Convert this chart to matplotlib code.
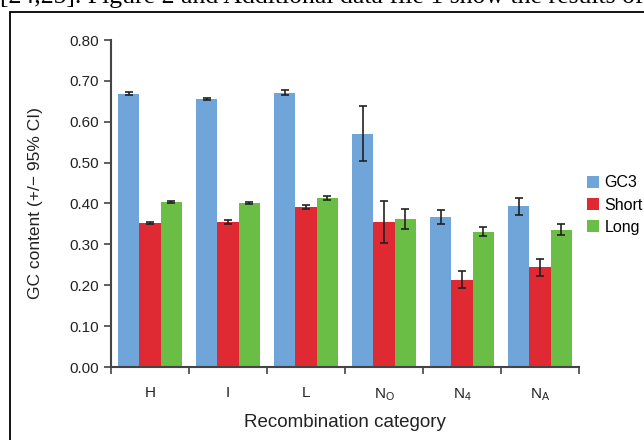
import numpy as np
import matplotlib
matplotlib.use('Agg')
import matplotlib.pyplot as plt
from matplotlib.patches import Rectangle

plt.rcParams['font.family'] = ['Liberation Sans', 'DejaVu Sans']
plt.rcParams['mathtext.fontset'] = 'custom'
plt.rcParams['mathtext.rm'] = 'Liberation Sans'

categories = ['H', 'I', 'L', r'N$_\mathrm{O}$', r'N$_\mathrm{4}$', r'N$_\mathrm{A}$']
series = ['GC3', 'Short', 'Long']
gc3 = [0.669, 0.655, 0.671, 0.571, 0.367, 0.393]
gc3_err = [0.003, 0.003, 0.006, 0.068, 0.016, 0.021]
short = [0.352, 0.355, 0.391, 0.355, 0.214, 0.244]
short_err = [0.003, 0.004, 0.005, 0.051, 0.020, 0.021]
long_ = [0.404, 0.401, 0.414, 0.362, 0.331, 0.336]
long_err = [0.002, 0.003, 0.005, 0.024, 0.011, 0.013]
colors = ['#6fa5d8', '#e02a33', '#6abd45']

fig = plt.figure(figsize=(6.44, 4.40), dpi=100)
ax = fig.add_axes([111/644, 1-367/440, 468/644, 327/440])

x = np.arange(len(categories))
w = 0.27
for i, (vals, errs) in enumerate([(gc3, gc3_err), (short, short_err), (long_, long_err)]):
    ax.bar(x + (i-1)*w, vals, w, color=colors[i], label=series[i],
           yerr=errs, error_kw=dict(ecolor='#222222', elinewidth=1.2, capsize=3, capthick=1.2))

ax.set_xlim(-0.5, len(categories)-0.5)
ax.set_ylim(0, 0.8)
ax.set_yticks(np.arange(0, 0.81, 0.1))
ax.set_yticklabels(['%.2f' % v for v in np.arange(0, 0.81, 0.1)], fontsize=11, color='#222222')
ax.set_xticks(np.arange(-0.5, len(categories), 1.0))
ax.set_xticklabels([])
ax.set_xticks(x, minor=True)
ax.set_xticklabels(categories, minor=True, fontsize=11, color='#222222')
ax.tick_params(axis='x', which='minor', length=0, pad=14)
ax.tick_params(axis='both', which='major', length=5, width=1.2, color='#444444', direction='out')
for s in ['top', 'right']:
    ax.spines[s].set_visible(False)
for s in ['left', 'bottom']:
    ax.spines[s].set_color('#444444')
    ax.spines[s].set_linewidth(1.5)

ax.set_xlabel('Recombination category', fontsize=13.5, color='#222222', labelpad=8)
ax.set_ylabel('GC content (+/\u2212 95% CI)', fontsize=12.5, color='#222222', labelpad=19)

leg = ax.legend(loc='center left', frameon=False, fontsize=11.5, borderaxespad=0, borderpad=0,
                handlelength=0.75, handleheight=0.75, handletextpad=0.35, labelspacing=0.45)
leg.set_bbox_to_anchor((1.017, 0.495), transform=ax.transAxes)

# surrounding frame and cut-off running text from the page
fig.patches.append(Rectangle((10/644, -0.2), 1.2, 1.2 - 12/440, transform=fig.transFigure,
                             fill=False, lw=1.3, ec='black'))
fig.text(0.0, 1 - 3.5/440, '[24,25]. Figure 2 and Additional data file 1 show the results of',
         family='Liberation Serif', fontsize=18.5, va='baseline', ha='left')

fig.savefig('out.png', dpi=100)
